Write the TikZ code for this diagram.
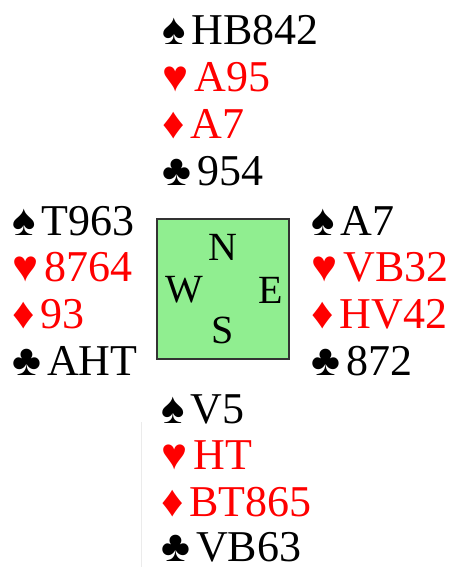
\documentclass[tikz,border=0pt]{standalone}
\usepackage{fontspec}
\setmainfont{Liberation Serif}
\usetikzlibrary{positioning}
\definecolor{boardgreen}{HTML}{90EE90}
\newcommand{\cardgap}{\kern6pt}

\begin{document}
\begin{tikzpicture}[
  x=1pt, y=-1pt,
  hand/.style={anchor=base west, inner sep=0pt, font=\fontsize{44}{44}\selectfont},
  redhand/.style={hand, text=red},
  seat/.style={anchor=base, inner sep=0pt, font=\fontsize{40}{40}\selectfont},
  board/.style={draw=black!80, line width=1.2pt, fill=boardgreen, minimum width=132pt, minimum height=140pt, inner sep=0pt}
]
\useasboundingbox (0,0) rectangle (456,567);

% table with the four seats
\node[board] (board) at (223,289) {};
\node[seat] (N) at (223,260) {N};
\node[seat] (W) at (184,302) {W};
\node[seat] (E) at (271,303) {E};
\node[seat] (S) at (223,343) {S};

% north
\node[hand] (nS) at (162,45) {♠\cardgap HB842};
\node[redhand] (nH) at (162,91.7) {♥\cardgap A95};
\node[redhand] (nD) at (162,138.4) {♦\cardgap A7};
\node[hand] (nC) at (162,185) {♣\cardgap 954};

% west
\node[hand] (wS) at (12,235) {♠\cardgap T963};
\node[redhand] (wH) at (12,281.7) {♥\cardgap 8764};
\node[redhand] (wD) at (12,328.4) {♦\cardgap 93};
\node[hand] (wC) at (12,375) {♣\cardgap AHT};

% east
\node[hand] (eS) at (311,235) {♠\cardgap A7};
\node[redhand] (eH) at (311,281.7) {♥\cardgap VB32};
\node[redhand] (eD) at (311,328.4) {♦\cardgap HV42};
\node[hand] (eC) at (311,375) {♣\cardgap 872};

% south
\node[hand] (sS) at (161,423) {♠\cardgap V5};
\node[redhand] (sH) at (161,469.7) {♥\cardgap HT};
\node[redhand] (sD) at (161,516.4) {♦\cardgap BT865};
\node[hand] (sC) at (161,561) {♣\cardgap VB63};

\draw[black!8, line width=0.8pt] (141,422) -- (141,567);
\end{tikzpicture}
\end{document}
